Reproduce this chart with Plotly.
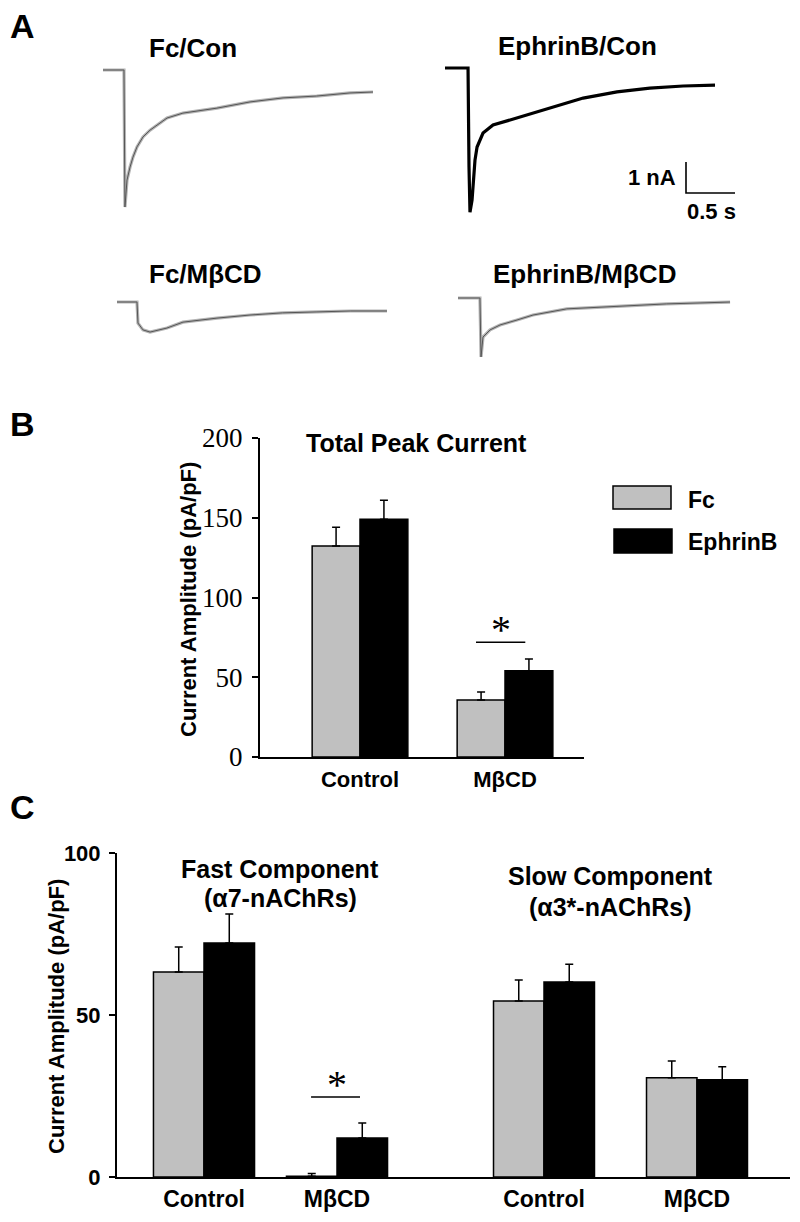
import plotly.graph_objects as go

W, H = 800, 1222
OFF = 8

# ---- panel A: whole-cell current traces (time in s, current in nA)
fc_con_t = [0, 0.214, 0.224, 0.245, 0.276, 0.306, 0.347, 0.408, 0.48, 0.653, 0.816, 1.163, 1.5, 1.837, 2.18, 2.52, 2.755]
fc_con_i = [0, 0, -4.42, -3.55, -3.13, -2.81, -2.48, -2.16, -1.94, -1.55, -1.39, -1.23, -1.03, -0.90, -0.84, -0.74, -0.71]

eph_con_t = [0, 0.235, 0.245, 0.255, 0.276, 0.306, 0.327, 0.388, 0.49, 0.735, 1.07, 1.41, 1.755, 2.09, 2.43, 2.755]
eph_con_i = [0, 0, -3.2, -4.65, -4.26, -2.97, -2.55, -2.10, -1.84, -1.61, -1.29, -0.97, -0.77, -0.65, -0.58, -0.55]

fc_mcd_t = [0, 0.204, 0.214, 0.265, 0.337, 0.51, 0.673, 1.02, 1.357, 1.69, 2.04, 2.38, 2.755]
fc_mcd_i = [0, 0, -0.68, -0.90, -0.97, -0.84, -0.65, -0.52, -0.42, -0.35, -0.32, -0.29, -0.29]

eph_mcd_t = [0, 0.224, 0.235, 0.255, 0.327, 0.429, 0.602, 0.765, 1.11, 1.45, 1.79, 2.13, 2.47, 2.776]
eph_mcd_i = [0, 0, -1.9, -1.26, -1.03, -0.87, -0.71, -0.55, -0.35, -0.29, -0.23, -0.19, -0.16, -0.13]

scale_nA = 1.0
scale_s = 0.5

# ---- panel B: total peak current (pA/pF)
groups_b = ["Control", "M\u03b2CD"]
fc_total = [132.3, 35.7]
fc_total_err = [11.7, 5.1]
eph_total = [149.0, 54.0]
eph_total_err = [12.0, 7.4]

# ---- panel C: fast / slow components (pA/pF)
groups_c = ["Control", "M\u03b2CD"]
fc_fast = [63.3, 0.2]
fc_fast_err = [7.7, 0.9]
eph_fast = [72.2, 12.0]
eph_fast_err = [9.0, 4.7]
fc_slow = [54.3, 30.6]
fc_slow_err = [6.5, 5.2]
eph_slow = [60.2, 30.0]
eph_slow_err = [5.5, 4.0]

GRAY = "#c0c0c0"
SANS = "Liberation Sans"
SERIF = "Liberation Serif"


def px(x):
    return (x - OFF) / W


def py(y):
    return 1 - (y - OFF) / H


fig = go.Figure()

# panel A subplots: 98 px per second, 31 px per nA
PX_S, PX_NA = 98.0, 31.0
a_panels = [
    # (t, i, black trace?, origin px, box px left,right,top,bottom)
    (fc_con_t, fc_con_i, False, (103, 70), (95, 390, 55, 215)),
    (eph_con_t, eph_con_i, True, (445, 68), (435, 745, 55, 220)),
    (fc_mcd_t, fc_mcd_i, False, (117, 302), (110, 395, 290, 345)),
    (eph_mcd_t, eph_mcd_i, False, (458, 298), (450, 745, 285, 365)),
]
for k, (t, i, dark, (ox, oy), (l, r, tp, bt)) in enumerate(a_panels):
    n = k + 1
    xa = "x" if n == 1 else f"x{n}"
    ya = "y" if n == 1 else f"y{n}"
    if dark:
        fig.add_trace(go.Scatter(x=t, y=i, mode="lines", xaxis=xa, yaxis=ya,
                                 line=dict(color="black", width=3.2), showlegend=False))
    else:
        # light band plus darker core, like the noisy gray recordings
        fig.add_trace(go.Scatter(x=t, y=i, mode="lines", xaxis=xa, yaxis=ya,
                                 line=dict(color="#b4b4b4", width=3.2), showlegend=False))
        fig.add_trace(go.Scatter(x=t, y=i, mode="lines", xaxis=xa, yaxis=ya,
                                 line=dict(color="#555555", width=1), showlegend=False))
    key = "" if n == 1 else str(n)
    fig.layout["xaxis" + key] = dict(domain=[px(l), px(r)], range=[(l - ox) / PX_S, (r - ox) / PX_S],
                                     visible=False, anchor=ya)
    fig.layout["yaxis" + key] = dict(domain=[py(bt), py(tp)], range=[-(bt - oy) / PX_NA, -(tp - oy) / PX_NA],
                                     visible=False, anchor=xa)

# scale bar in EphrinB/Con panel
sb_t0 = (686 - 445) / PX_S
sb_i0 = -(193 - 68) / PX_NA
fig.add_trace(go.Scatter(x=[sb_t0, sb_t0, sb_t0 + scale_s], y=[sb_i0 + scale_nA, sb_i0, sb_i0],
                         mode="lines", xaxis="x2", yaxis="y2",
                         line=dict(color="black", width=1.6), showlegend=False))

# ---- panel B bars
bw_b = 0.33
err_style = dict(type="data", symmetric=False, color="black", thickness=1.5, width=4)
fig.add_trace(go.Bar(x=groups_b, y=fc_total, width=bw_b, offset=-bw_b, xaxis="x5", yaxis="y5",
                     marker=dict(color=GRAY, line=dict(color="black", width=1.5)),
                     error_y=dict(array=fc_total_err, arrayminus=[0, 0], **err_style), name="Fc"))
fig.add_trace(go.Bar(x=groups_b, y=eph_total, width=bw_b, offset=0, xaxis="x5", yaxis="y5",
                     marker=dict(color="black", line=dict(color="black", width=1.5)),
                     error_y=dict(array=eph_total_err, arrayminus=[0, 0], **err_style), name="EphrinB"))

fig.layout.xaxis5 = dict(domain=[px(260), px(584)], anchor="y5", type="category",
                         range=[-100 / 145, 1 + 79 / 145], showline=True, linecolor="black", linewidth=2,
                         ticks="", showgrid=False, ticklabelstandoff=2,
                         tickfont=dict(family=SANS, size=22, color="black", weight="bold"))
fig.layout.yaxis5 = dict(domain=[py(757), py(438)], anchor="x5", range=[0, 200], tickvals=[0, 50, 100, 150, 200],
                         showline=True, linecolor="black", linewidth=2, ticks="outside", ticklen=6,
                         tickwidth=2, tickcolor="black", showgrid=False, zeroline=False,
                         ticklabelstandoff=4, tickfont=dict(family=SERIF, size=27, color="black"))

# ---- panel C bars: fast (x6/y6) and slow (x7/y7)
bw_f = 0.38
bw_s = 0.33
for xs, ys, vals_fc, err_fc, vals_e, err_e, bw in [
    ("x6", "y6", fc_fast, fc_fast_err, eph_fast, eph_fast_err, bw_f),
    ("x7", "y7", fc_slow, fc_slow_err, eph_slow, eph_slow_err, bw_s),
]:
    fig.add_trace(go.Bar(x=groups_c, y=vals_fc, width=bw, offset=-bw, xaxis=xs, yaxis=ys, showlegend=False,
                         marker=dict(color=GRAY, line=dict(color="black", width=1.5)),
                         error_y=dict(array=err_fc, arrayminus=[0, 0], **err_style)))
    fig.add_trace(go.Bar(x=groups_c, y=vals_e, width=bw, offset=0, xaxis=xs, yaxis=ys, showlegend=False,
                         marker=dict(color="black", line=dict(color="black", width=1.5)),
                         error_y=dict(array=err_e, arrayminus=[0, 0], **err_style)))

c_tick = dict(family=SANS, size=22, color="black", weight="bold")
c_cat = dict(family=SANS, size=23, color="black", weight="bold")
fig.layout.xaxis6 = dict(domain=[px(117), px(421)], anchor="y6", type="category",
                         range=[-(204 - 117) / 133, 1 + (421 - 337) / 133], showline=True, linecolor="black",
                         linewidth=2, ticks="", showgrid=False, ticklabelstandoff=0, tickfont=c_cat)
fig.layout.yaxis6 = dict(domain=[py(1177), py(853)], anchor="x6", range=[0, 100], tickvals=[0, 50, 100],
                         showline=True, linecolor="black", linewidth=2, ticks="outside", ticklen=6,
                         tickwidth=2, tickcolor="black", showgrid=False, zeroline=False,
                         ticklabelstandoff=4, tickfont=c_tick)
fig.layout.xaxis7 = dict(domain=[px(420), px(790)], anchor="y7", type="category",
                         range=[-(544 - 420) / 153, 1 + (790 - 697) / 153], showline=True, linecolor="black",
                         linewidth=2, ticks="", showgrid=False, ticklabelstandoff=0, tickfont=c_cat)
fig.layout.yaxis7 = dict(domain=[py(1177), py(853)], anchor="x7", range=[0, 100], visible=False)

# significance markers
fig.add_shape(type="line", xref="x5", yref="y5", x0=1 - 0.2, x1=1 + 0.14, y0=72, y1=72,
              line=dict(color="black", width=1.5))
fig.add_annotation(xref="x5", yref="y5", x=0.97, y=72, text="*", showarrow=False, yanchor="bottom",
                   yshift=-12, font=dict(family=SERIF, size=40, color="black"))
fig.add_shape(type="line", xref="x6", yref="y6", x0=1 - 0.195, x1=1 + 0.173, y0=24.7, y1=24.7,
              line=dict(color="black", width=1.5))
fig.add_annotation(xref="x6", yref="y6", x=1.0, y=24.7, text="*", showarrow=False, yanchor="bottom",
                   yshift=-12, font=dict(family=SERIF, size=40, color="black"))

# legend for B, drawn as boxes
fig.add_shape(type="rect", xref="paper", yref="paper", x0=px(613), x1=px(671), y0=py(509), y1=py(486),
              fillcolor=GRAY, line=dict(color="black", width=1.5))
fig.add_shape(type="rect", xref="paper", yref="paper", x0=px(614), x1=px(672), y0=py(553), y1=py(529),
              fillcolor="black", line=dict(color="black", width=1.5))


def label(x, y, text, size, family=SANS, bold=True, xanchor="center", angle=0):
    fig.add_annotation(xref="paper", yref="paper", x=px(x), y=py(y), text=text, showarrow=False,
                       xanchor=xanchor, yanchor="middle", textangle=angle,
                       font=dict(family=family, size=size, color="black", weight="bold" if bold else "normal"))


label(686, 500, "Fc", 23, xanchor="left")
label(686, 542, "EphrinB", 23, xanchor="left")

# panel letters
label(22, 26, "A", 34)
label(22, 424, "B", 34)
label(22, 807, "C", 34)

# trace titles
label(193, 48, "Fc/Con", 26)
label(577, 46, "EphrinB/Con", 26)
label(205, 274, "Fc/M\u03b2CD", 26)
label(584, 274, "EphrinB/M\u03b2CD", 26)
label(652, 178, "1 nA", 22)
label(711, 212, "0.5 s", 22)

# chart titles
label(416, 443, "Total Peak Current", 25)
label(280, 869, "Fast Component", 25)
label(280, 898, "(\u03b17-nAChRs)", 25)
label(610, 876, "Slow Component", 25)
label(610, 907, "(\u03b13*-nAChRs)", 25)

# y axis titles
label(188, 600, "Current Amplitude (pA/pF)", 22, angle=-90)
label(56, 1017, "Current Amplitude (pA/pF)", 22, angle=-90)

fig.update_layout(width=W, height=H, margin=dict(l=0, r=0, t=0, b=0), barmode="overlay",
                  plot_bgcolor="white", paper_bgcolor="white", showlegend=False)
fig.update_xaxes(automargin=False)
fig.update_yaxes(automargin=False)

fig.write_html("out.html")
